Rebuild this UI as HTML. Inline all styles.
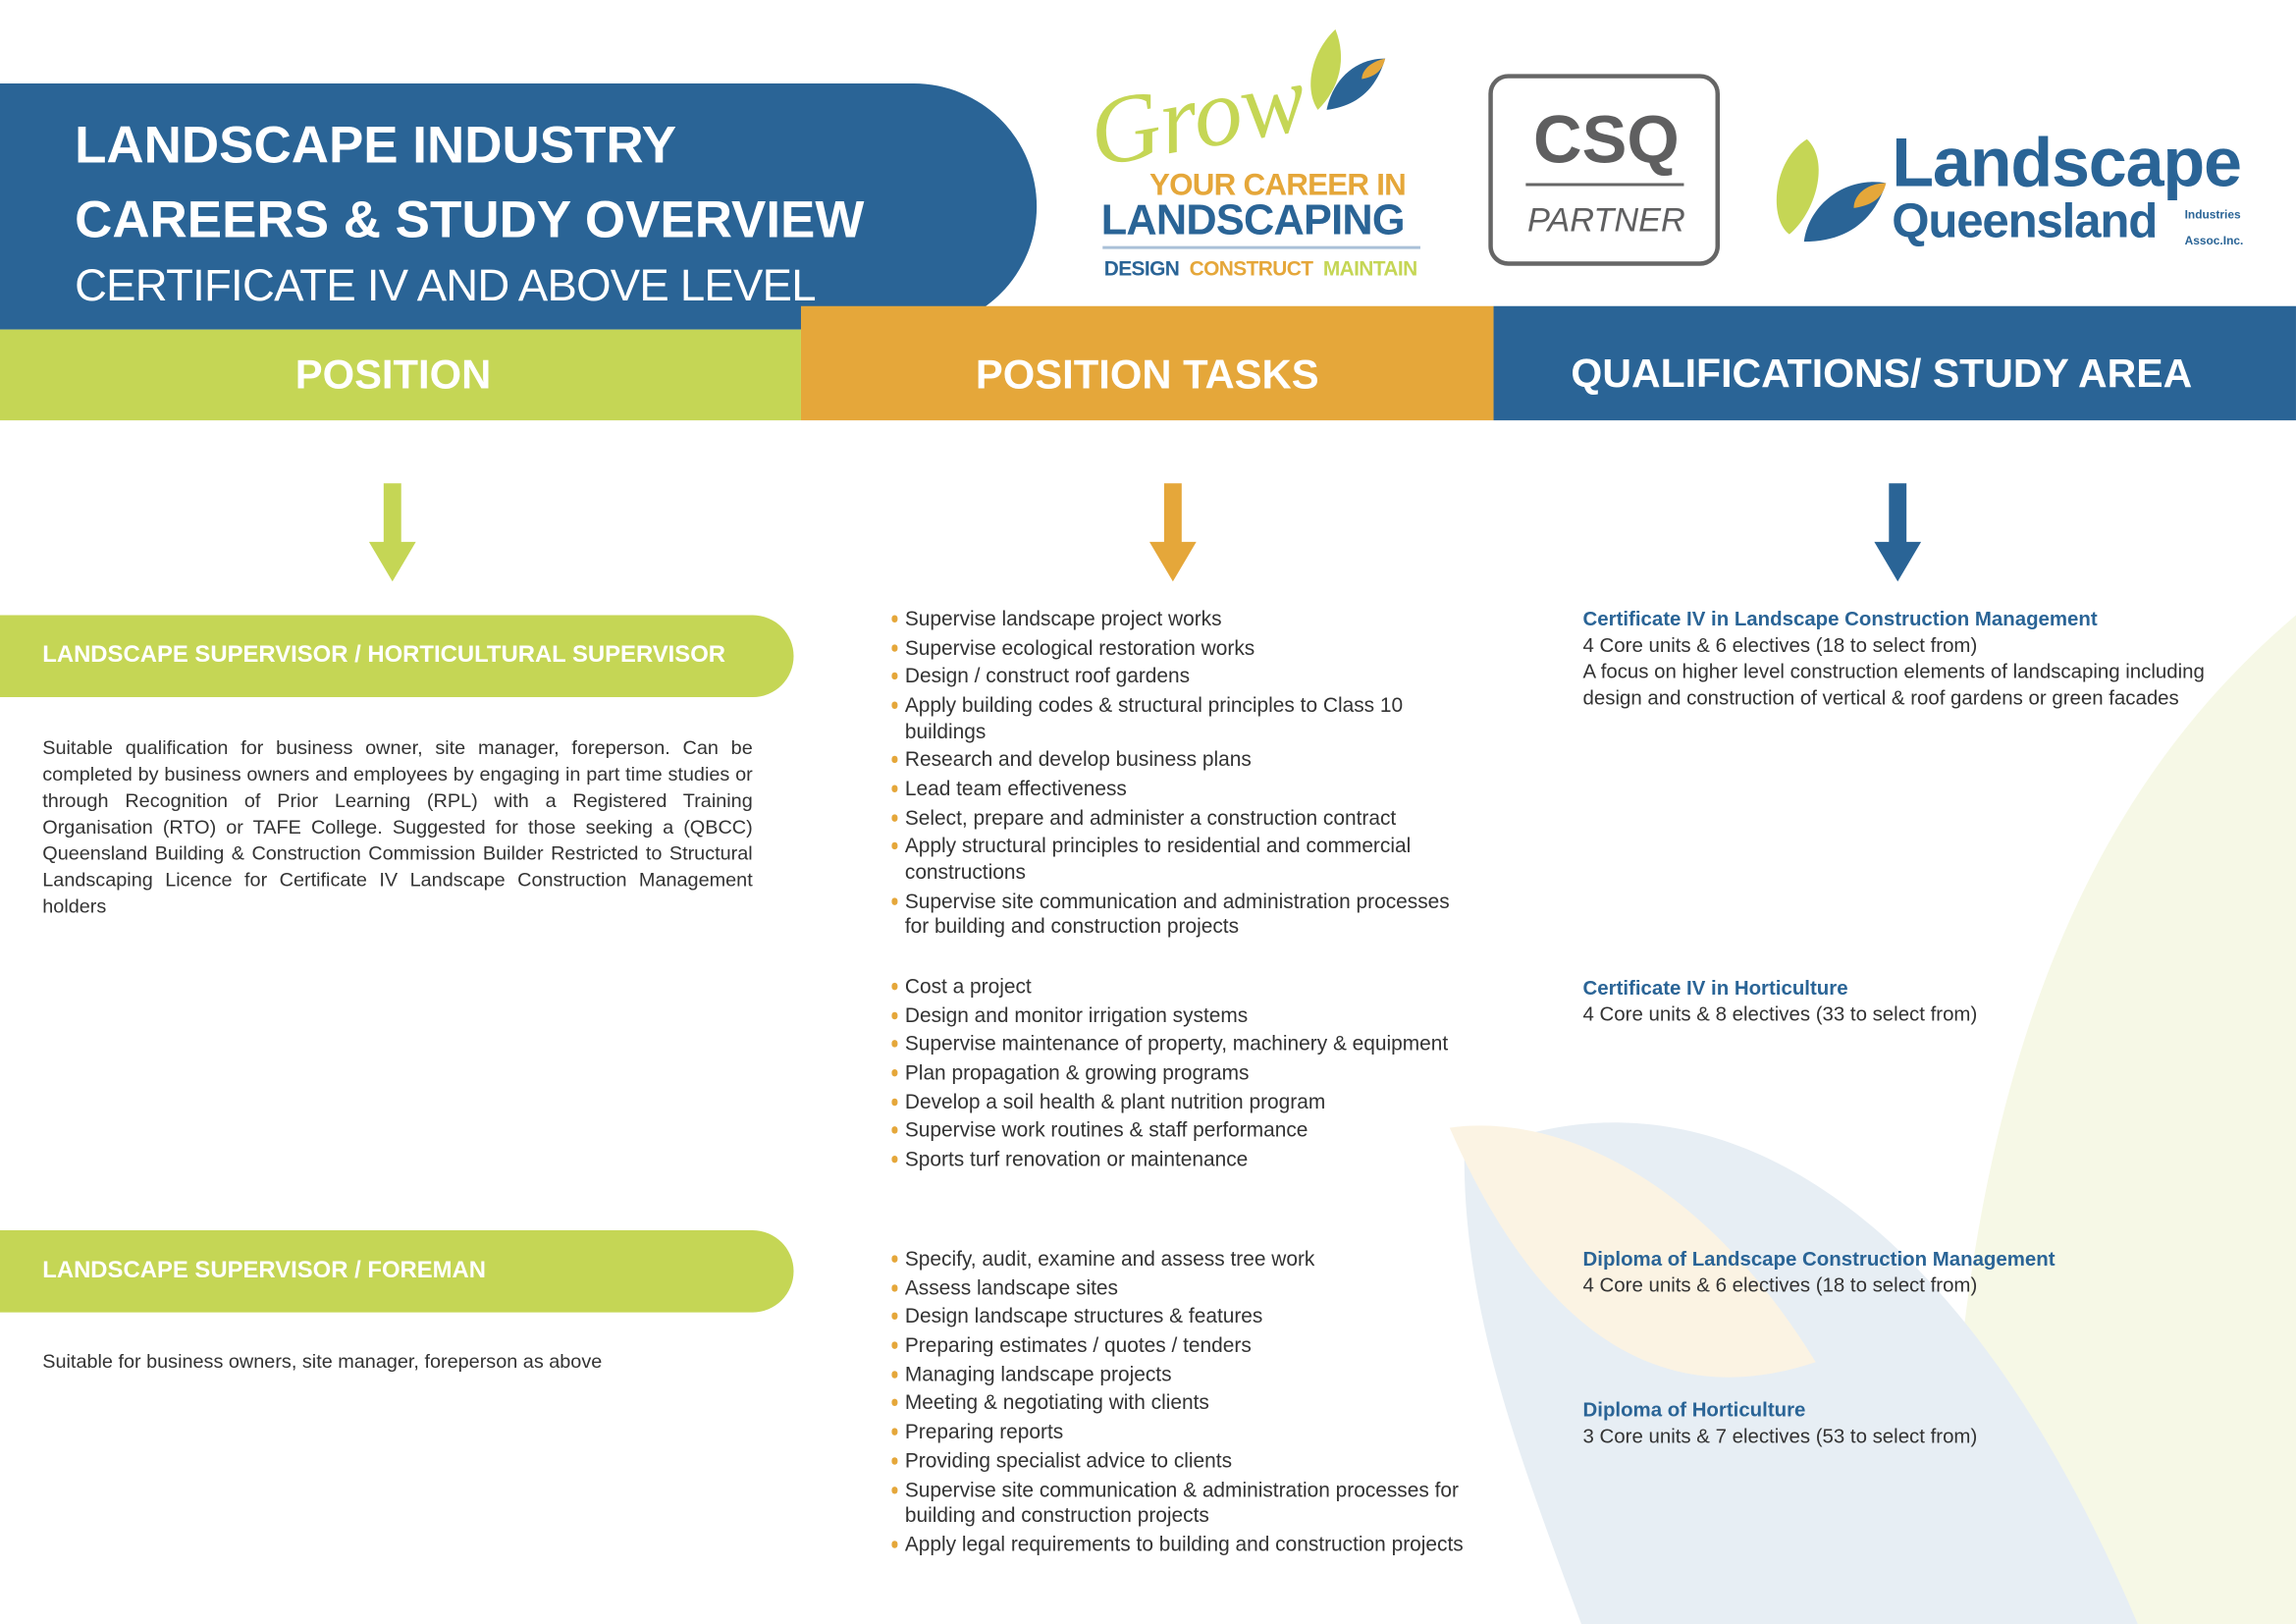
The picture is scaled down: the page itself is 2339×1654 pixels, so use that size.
<!DOCTYPE html>
<html><head><meta charset="utf-8"><style>
html,body{margin:0;padding:0;background:#fff;overflow:hidden}
#w{width:2339px;height:1654px;position:relative;overflow:hidden}
#p{width:1568px;height:1109px;position:absolute;left:0;top:0;transform:scale(1.4917);transform-origin:0 0;font-family:"Liberation Sans",sans-serif;color:#333}
.a{position:absolute}
.hd{font-weight:bold;color:#fff;font-size:28px;text-align:center;line-height:62px}
.pill{position:absolute;left:0;width:542px;height:56px;background:#c5d655;border-radius:0 28px 28px 0;color:#fff;font-weight:bold;font-size:16px;line-height:56px;padding-left:29px;box-sizing:border-box}
.txt{font-size:13.3px;line-height:18px;color:#333}
ul{list-style:none;margin:0;padding:0}
li{position:relative;padding-left:9px;font-size:14px;line-height:17.6px;margin-bottom:2.1px;color:#333}
li:before{content:"";position:absolute;left:0;top:6px;width:4px;height:5px;border-radius:2px;background:#e5a73a}
.q{font-size:13.7px;line-height:18px;color:#333}
.q b{color:#2a6496}
</style></head><body><div id="w"><div id="p">
<svg class="a" style="left:0;top:0" width="1568" height="1109">
<path d="M1568 420 C1450 520 1330 700 1330 1109 L1568 1109Z" fill="#f6f8e6"/>
<path d="M1000 790 C1150 720 1330 800 1460 1109 L1080 1109 C1040 1000 1000 900 1000 790Z" fill="#e7eef4"/>
<path d="M990 770 C1060 760 1160 800 1240 930 C1150 960 1060 930 990 770Z" fill="#fbf3e3"/>
<path d="M0 57 H624 A84 84 0 0 1 624 225 H0Z" fill="#2a6496"/>
<rect x="0" y="225" width="547" height="62" fill="#c5d655"/>
<rect x="547" y="209" width="473" height="78" fill="#e5a73a"/>
<rect x="1020" y="209" width="548" height="78" fill="#2a6496"/>
<path d="M262 330h12v40h10l-16 27-16-27h10z" fill="#c5d655"/>
<path d="M795 330h12v40h10l-16 27-16-27h10z" fill="#e5a73a"/>
<path d="M1290 330h12v40h10l-16 27-16-27h10z" fill="#2a6496"/>
<rect x="1018" y="52" width="155" height="128" rx="12" fill="none" stroke="#666" stroke-width="3"/>
<line x1="1042" y1="126" x2="1150" y2="126" stroke="#666" stroke-width="2"/>
<path d="M1234 95 C1210 110 1208 150 1222 160 C1240 145 1250 110 1234 95Z" fill="#c5d655"/>
<path d="M1288 125 C1260 120 1235 140 1232 165 C1262 165 1280 150 1288 125Z" fill="#2a6496"/>
<path d="M1288 125 C1275 125 1266 133 1266 142 C1280 140 1286 134 1288 125Z" fill="#e5a73a"/>
<path d="M912 20 C896 35 890 60 900 75 C915 60 920 40 912 20Z" fill="#c5d655"/>
<path d="M946 40 C925 40 910 55 906 75 C928 72 940 60 946 40Z" fill="#2a6496"/>
<path d="M946 40 C936 42 930 48 930 54 C940 52 944 48 946 40Z" fill="#e5a73a"/>
<line x1="753" y1="169" x2="970" y2="169" stroke="#aac0d8" stroke-width="2"/>
</svg>
<div class="a" style="left:51px;top:74px;color:#fff;font-weight:bold;font-size:35.5px;line-height:51px">LANDSCAPE INDUSTRY<br>CAREERS &amp; STUDY OVERVIEW</div>
<div class="a" style="left:51px;top:175px;color:#fff;font-size:30.5px;line-height:40px;letter-spacing:-0.5px">CERTIFICATE IV AND ABOVE LEVEL</div>
<div class="a" style="left:744px;top:40px;color:#c5d655;font-family:'Liberation Serif',serif;font-style:italic;font-size:66px;line-height:80px;transform:rotate(-10deg)">Grow</div>
<div class="a" style="left:785px;top:115px;color:#e5a73a;font-weight:bold;font-size:21px;letter-spacing:-0.5px">YOUR CAREER IN</div>
<div class="a" style="left:752px;top:135px;color:#2a6496;font-weight:bold;font-size:29px;letter-spacing:-0.5px">LANDSCAPING</div>
<div class="a" style="left:754px;top:175px;font-weight:bold;font-size:14px;letter-spacing:-0.4px"><span style="color:#2a6496">DESIGN</span>&nbsp;&nbsp;<span style="color:#e5a73a">CONSTRUCT</span>&nbsp;&nbsp;<span style="color:#c5d655">MAINTAIN</span></div>
<div class="a" style="left:1018px;top:68px;width:158px;text-align:center;color:#5f5f60;font-weight:bold;font-size:46px">CSQ</div>
<div class="a" style="left:1018px;top:137px;width:158px;text-align:center;color:#5f5f60;font-style:italic;font-size:23px">PARTNER</div>
<div class="a" style="left:1292px;top:86px;color:#2a6496;font-weight:bold;font-size:47px;letter-spacing:-0.8px;line-height:50px">Landscape</div>
<div class="a" style="left:1292px;top:131px;color:#2a6496;font-weight:bold;font-size:33px;letter-spacing:-0.8px;line-height:40px">Queensland</div>
<div class="a" style="left:1492px;top:138px;color:#2a6496;font-weight:bold;font-size:8px;line-height:18px">Industries<br>Assoc.Inc.</div>
<div class="a hd" style="left:0;top:225px;width:537px">POSITION</div>
<div class="a hd" style="left:547px;top:225px;width:473px">POSITION TASKS</div>
<div class="a hd" style="left:1020px;top:224px;width:530px;font-size:27.5px">QUALIFICATIONS/ STUDY AREA</div>
<div class="pill" style="top:420px">LANDSCAPE SUPERVISOR / HORTICULTURAL SUPERVISOR</div>
<div class="pill" style="top:840px">LANDSCAPE SUPERVISOR / FOREMAN</div>
<div class="a txt" style="left:29px;top:502px;width:485px;text-align:justify">Suitable qualification for business owner, site manager, foreperson. Can be completed by business owners and employees by engaging in part time studies or through Recognition of Prior Learning (RPL) with a Registered Training Organisation (RTO) or TAFE College. Suggested for those seeking a (QBCC) Queensland Building &amp; Construction Commission Builder Restricted to Structural Landscaping Licence for Certificate IV Landscape Construction Management holders</div>
<div class="a txt" style="left:29px;top:921px">Suitable for business owners, site manager, foreperson as above</div>
<ul class="a" style="left:609px;top:414px;width:394px">
<li>Supervise landscape project works</li><li>Supervise ecological restoration works</li><li>Design / construct roof gardens</li><li>Apply building codes &amp; structural principles to Class 10 buildings</li><li>Research and develop business plans</li><li>Lead team effectiveness</li><li>Select, prepare and administer a construction contract</li><li>Apply structural principles to residential and commercial constructions</li><li>Supervise site communication and administration processes for building and construction projects</li></ul>
<ul class="a" style="left:609px;top:665px;width:394px">
<li>Cost a project</li><li>Design and monitor irrigation systems</li><li>Supervise maintenance of property, machinery &amp; equipment</li><li>Plan propagation &amp; growing programs</li><li>Develop a soil health &amp; plant nutrition program</li><li>Supervise work routines &amp; staff performance</li><li>Sports turf renovation or maintenance</li></ul>
<ul class="a" style="left:609px;top:851px;width:396px">
<li>Specify, audit, examine and assess tree work</li><li>Assess landscape sites</li><li>Design landscape structures &amp; features</li><li>Preparing estimates / quotes / tenders</li><li>Managing landscape projects</li><li>Meeting &amp; negotiating with clients</li><li>Preparing reports</li><li>Providing specialist advice to clients</li><li>Supervise site communication &amp; administration processes for building and construction projects</li><li>Apply legal requirements to building and construction projects</li></ul>
<div class="a q" style="left:1081px;top:414px;width:445px"><b>Certificate IV in Landscape Construction Management</b><br>4 Core units &amp; 6 electives (18 to select from)<br>A focus on higher level construction elements of landscaping including design and construction of vertical &amp; roof gardens or green facades</div>
<div class="a q" style="left:1081px;top:666px"><b>Certificate IV in Horticulture</b><br>4 Core units &amp; 8 electives (33 to select from)</div>
<div class="a q" style="left:1081px;top:851px"><b>Diploma of Landscape Construction Management</b><br>4 Core units &amp; 6 electives (18 to select from)</div>
<div class="a q" style="left:1081px;top:954px"><b>Diploma of Horticulture</b><br>3 Core units &amp; 7 electives (53 to select from)</div>
</div></div></body></html>
